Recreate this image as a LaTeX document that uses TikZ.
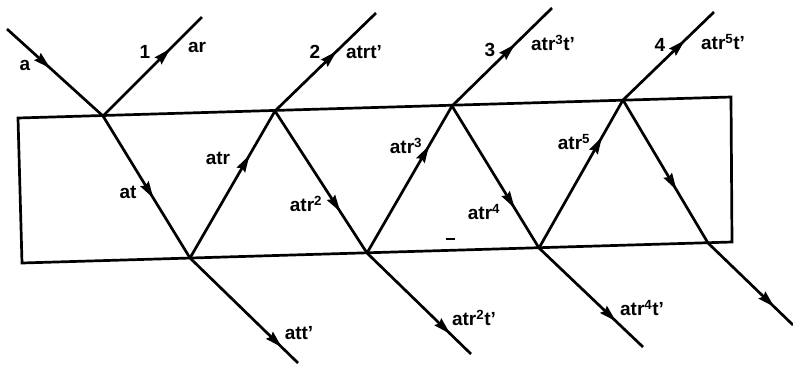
\documentclass[tikz,border=0pt]{standalone}
\usepackage{fontspec}
\setmainfont{Liberation Sans}
\usetikzlibrary{arrows.meta,decorations.markings}
\tikzset{
  ray/.style={line width=2.7pt},
  marr/.style={postaction={decorate},decoration={markings,
     mark=at position #1 with {\arrow{Stealth[length=17pt,width=9.5pt,inset=2pt]}}}},
  lbl/.style={font=\fontsize{19}{21}\selectfont\bfseries, inner sep=0pt},
  box/.style={line width=2.7pt, line join=miter},
}
\begin{document}
\begin{tikzpicture}[x=1pt,y=-1pt]
\useasboundingbox (0,0) rectangle (793,365);
% slab corners
\coordinate (C1) at (18,118);
\coordinate (C2) at (731,97);
\coordinate (C3) at (732,242);
\coordinate (C4) at (22,263);
\draw[box] (C1) -- (C2) -- (C3) -- (C4) -- cycle;
% points
\coordinate (S0) at (7,29);
\coordinate (T1) at (103,116);
\coordinate (T2) at (275,111);
\coordinate (T3) at (452,106);
\coordinate (T4) at (623,100);
\coordinate (B1) at (190,258);
\coordinate (B2) at (367,253);
\coordinate (B3) at (539,248);
\coordinate (B4) at (708,243);
\coordinate (E1) at (202,17);
\coordinate (E2) at (376,13);
\coordinate (E3) at (552,8);
\coordinate (E4) at (714,12);
\coordinate (F1) at (298,363);
\coordinate (F2) at (471,354);
\coordinate (F3) at (643,347);
\coordinate (F4) at (793,325);
% rays
\draw[ray,marr=0.45] (S0) -- (T1);
\draw[ray,marr=0.68] (T1) -- (E1);
\draw[ray,marr=0.61] (T2) -- (E2);
\draw[ray,marr=0.63] (T3) -- (E3);
\draw[ray,marr=0.68] (T4) -- (E4);
\draw[ray,marr=0.58] (T1) -- (B1);
\draw[ray,marr=0.70] (B1) -- (T2);
\draw[ray,marr=0.71] (T2) -- (B2);
\draw[ray,marr=0.73] (B2) -- (T3);
\draw[ray,marr=0.72] (T3) -- (B3);
\draw[ray,marr=0.75] (B3) -- (T4);
\draw[ray,marr=0.63] (T4) -- (B4);
\draw[ray,marr=0.85] (B1) -- (F1);
\draw[ray,marr=0.80] (B2) -- (F2);
\draw[ray,marr=0.74] (B3) -- (F3);
\draw[ray,marr=0.78] (B4) -- (F4);
% stray dash
\coordinate (D1) at (446,239);
\coordinate (D2) at (455,239);
\draw[line width=2.5pt] (D1) -- (D2);
% labels
\node[lbl] (la) at (25,65) {a};
\node[lbl] (n1) at (145,52) {1};
\node[lbl] (l1) at (197,47) {ar};
\node[lbl] (n2) at (315,52) {2};
\node[lbl] (l2) at (364,52) {atrt’};
\node[lbl] (n3) at (490,50) {3};
\node[lbl] (l3) at (553,43) {atr\textsuperscript{3}t’};
\node[lbl] (n4) at (660,45) {4};
\node[lbl] (l4) at (723,42) {atr\textsuperscript{5}t’};
\node[lbl] (i1) at (128,192) {at};
\node[lbl] (i2) at (218,158) {atr};
\node[lbl] (i3) at (306,204) {atr\textsuperscript{2}};
\node[lbl] (i4) at (406,146) {atr\textsuperscript{3}};
\node[lbl] (i5) at (484,212) {atr\textsuperscript{4}};
\node[lbl] (i6) at (574,142) {atr\textsuperscript{5}};
\node[lbl] (o1) at (299,333) {att’};
\node[lbl] (o2) at (474,318) {atr\textsuperscript{2}t’};
\node[lbl] (o3) at (642,308) {atr\textsuperscript{4}t’};
\end{tikzpicture}
\end{document}
